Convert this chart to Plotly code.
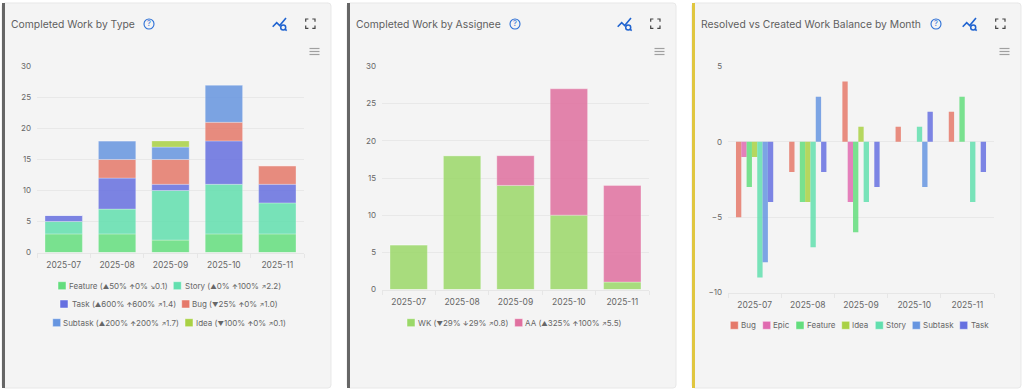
import plotly.graph_objects as go

W, H = 1024, 391
months = ["2025-07", "2025-08", "2025-09", "2025-10", "2025-11"]

# Completed Work by Type
feature = [3, 3, 2, 3, 3]
story = [2, 4, 8, 8, 5]
task = [1, 5, 1, 7, 3]
bug = [0, 3, 4, 3, 3]
subtask = [0, 3, 2, 6, 0]
idea = [0, 0, 1, 0, 0]

# Completed Work by Assignee
wk = [6, 18, 14, 10, 1]
aa = [0, 0, 4, 17, 13]

# Resolved vs Created balance
bal_bug = [-5, -2, 4, 1, 2]
bal_epic = [-1, 0, -4, 0, 0]
bal_feature = [-3, -4, -6, 0, 3]
bal_idea = [-1, -4, 1, 0, 0]
bal_story = [-9, -7, -4, 1, -4]
bal_subtask = [-8, 3, 0, -3, 0]
bal_task = [-4, -2, -3, 2, -2]


def sym(s):
    return f'<span style="font-size:6.4px">{s}</span>'


UP, DN = sym("<b>↑</b>"), sym("<b>↓</b>")
TRI_U, TRI_D = sym("▲"), sym("▼")
AR_U, AR_D = sym("↗"), sym("↘")
titles = ["Completed Work by Type", "Completed Work by Assignee", "Resolved vs Created Work Balance by Month"]
type_labels = [f"Feature ({TRI_U}50% {UP}0% {AR_D}0.1)", f"Story ({TRI_U}0% {UP}100% {AR_U}2.2)",
               f"Task ({TRI_U}600% {UP}600% {AR_U}1.4)", f"Bug ({TRI_D}25% {UP}0% {AR_U}1.0)",
               f"Subtask ({TRI_U}200% {UP}200% {AR_U}1.7)", f"Idea ({TRI_D}100% {UP}0% {AR_U}0.1)"]
assignee_labels = [f"WK ({TRI_D}29% {DN}29% {AR_U}0.8)", f"AA ({TRI_U}325% {UP}100% {AR_U}5.5)"]
balance_labels = ["Bug", "Epic", "Feature", "Idea", "Story", "Subtask", "Task"]

C = dict(feature="#63dd7d", story="#62dfae", task="#6670e0", bug="#e5796a", subtask="#6695e0",
         idea="#a9d144", wk="#9ad868", aa="#e0709f", epic="#e06bb0")
OP = 0.85
TXT = "#666666"
FONT = "Inter"


def px(x):
    return x / W


def py(y):
    return 1 - y / H


def P(*pts):
    return " ".join(f"{c}{px(x):.5f},{py(y):.5f}" for c, x, y in pts)


def rrect(x0, y0, x1, y1, r):
    return (f"M{px(x0+r):.5f},{py(y0):.5f} L{px(x1-r):.5f},{py(y0):.5f} "
            f"Q{px(x1):.5f},{py(y0):.5f} {px(x1):.5f},{py(y0+r):.5f} "
            f"L{px(x1):.5f},{py(y1-r):.5f} Q{px(x1):.5f},{py(y1):.5f} {px(x1-r):.5f},{py(y1):.5f} "
            f"L{px(x0+r):.5f},{py(y1):.5f} Q{px(x0):.5f},{py(y1):.5f} {px(x0):.5f},{py(y1-r):.5f} "
            f"L{px(x0):.5f},{py(y0+r):.5f} Q{px(x0):.5f},{py(y0):.5f} {px(x0+r):.5f},{py(y0):.5f} Z")


fig = go.Figure()
LINE = dict(color="rgba(255,255,255,0.3)", width=1)
LINE_NONE = dict(width=0)


def add_stack(ax, series):
    running = [0] * len(months)
    for name, vals, col in series:
        fig.add_trace(go.Bar(
            x=months, y=vals, base=list(running), name=name, xaxis=f"x{ax}", yaxis=f"y{ax}", showlegend=False,
            offsetgroup=f"stack{ax}", alignmentgroup=f"stack{ax}",
            marker=dict(color=col, opacity=OP, line=LINE),
        ))
        running = [r + v for r, v in zip(running, vals)]


def add_group(ax, series):
    for name, vals, col in series:
        fig.add_trace(go.Bar(
            x=months, y=vals, name=name, xaxis=f"x{ax}", yaxis=f"y{ax}", showlegend=False,
            marker=dict(color=col, opacity=OP, line=LINE_NONE),
        ))


add_stack("", [("Feature", feature, C["feature"]), ("Story", story, C["story"]), ("Task", task, C["task"]),
               ("Bug", bug, C["bug"]), ("Subtask", subtask, C["subtask"]), ("Idea", idea, C["idea"])])
add_stack("2", [("WK", wk, C["wk"]), ("AA", aa, C["aa"])])
add_group("3", [("Bug", bal_bug, C["bug"]), ("Epic", bal_epic, C["epic"]), ("Feature", bal_feature, C["feature"]),
                ("Idea", bal_idea, C["idea"]), ("Story", bal_story, C["story"]), ("Subtask", bal_subtask, C["subtask"]),
                ("Task", bal_task, C["task"])])

shapes, ann = [], []

cards = [(2, 331, "#666666", 0), (347, 676, "#666666", 345), (692, 1021, "#e0c63f", 690)]
help_x = [149, 515, 936]
title_x = [10, 355, 700]
for i, (x0, x1, acc, off) in enumerate(cards):
    shapes.append(dict(type="path", path=rrect(x0, 3, x1, 388, 3), xref="paper", yref="paper",
                       fillcolor="#f4f4f4", line=dict(color="#e8e8e8", width=1), layer="below"))
    shapes.append(dict(type="rect", xref="paper", yref="paper", x0=px(x0), x1=px(x0 + 3), y0=py(388), y1=py(3),
                       fillcolor=acc, line=dict(width=0), layer="below"))
    ann.append(dict(text=titles[i], x=px(title_x[i]), y=py(24), xref="paper", yref="paper", xanchor="left",
                    yanchor="middle", showarrow=False, xshift=-1, font=dict(family=FONT, size=10.35, color="#5f5f5f")))
    hx = help_x[i]
    shapes.append(dict(type="circle", xref="paper", yref="paper", x0=px(hx - 5), x1=px(hx + 5), y0=py(29), y1=py(19),
                       line=dict(color="#2b6fd6", width=1.1)))
    ann.append(dict(text="?", x=px(hx), y=py(24), xref="paper", yref="paper", showarrow=False, xanchor="center",
                    yanchor="middle", font=dict(family=FONT, size=7.5, color="#2b6fd6")))
    # chart-search icon
    a = off
    shapes.append(dict(type="path", xref="paper", yref="paper", line=dict(color="#1f63d0", width=1.6),
                       path=P(("M", a + 272.7, 26.7), ("L", a + 276.7, 22.7), ("L", a + 279.7, 25.5), ("L", a + 286, 18))))
    shapes.append(dict(type="circle", xref="paper", yref="paper", x0=px(a + 280.7), x1=px(a + 285.7), y0=py(30),
                       y1=py(25), line=dict(color="#1f63d0", width=1.5)))
    shapes.append(dict(type="path", xref="paper", yref="paper", line=dict(color="#1f63d0", width=1.6),
                       path=P(("M", a + 285, 29.2), ("L", a + 286.7, 30.7))))
    # fullscreen icon
    fx0, fx1, fy0, fy1 = a + 305.7, a + 315, 19, 28.3
    for cx, cy, dx, dy in [(fx0, fy0, 2.7, 2.7), (fx1, fy0, -2.7, 2.7), (fx0, fy1, 2.7, -2.7), (fx1, fy1, -2.7, -2.7)]:
        shapes.append(dict(type="path", xref="paper", yref="paper", line=dict(color="#444444", width=1.2),
                           path=P(("M", cx, cy + dy), ("L", cx, cy), ("L", cx + dx, cy))))
    # menu icon
    for yy in (48.5, 51.5, 54.5):
        shapes.append(dict(type="line", xref="paper", yref="paper", x0=px(a + 309.5), x1=px(a + 319.5), y0=py(yy),
                           y1=py(yy), line=dict(color="#a0a0a0", width=1.2)))

legend_items = [
    (type_labels[0], C["feature"], 58, 67.7, 285.7), (type_labels[1], C["story"], 173.3, 183.7, 285.7),
    (type_labels[2], C["task"], 60, 70.7, 304), (type_labels[3], C["bug"], 181.7, 191.3, 304),
    (type_labels[4], C["subtask"], 52.7, 62.3, 322.7), (type_labels[5], C["idea"], 185, 195, 322.7),
    (assignee_labels[0], C["wk"], 407, 417, 322.7), (assignee_labels[1], C["aa"], 514.7, 524.3, 322.7),
    (balance_labels[0], C["bug"], 730.3, 740.3, 325.3), (balance_labels[1], C["epic"], 762.7, 772.3, 325.3),
    (balance_labels[2], C["feature"], 796, 805.7, 325.3), (balance_labels[3], C["idea"], 841.7, 851.3, 325.3),
    (balance_labels[4], C["story"], 875.3, 884.7, 325.3), (balance_labels[5], C["subtask"], 912.3, 922, 325.3),
    (balance_labels[6], C["task"], 959.7, 969.7, 325.3),
]
for text, col, sx, tx, yy in legend_items:
    shapes.append(dict(type="rect", xref="paper", yref="paper", x0=px(sx), x1=px(sx + 8), y0=py(yy + 4), y1=py(yy - 4),
                       fillcolor=col, line=dict(color="rgba(255,255,255,0.45)", width=1)))
    ann.append(dict(text=text, x=px(tx), y=py(yy), xref="paper", yref="paper", xanchor="left", yanchor="middle",
                    showarrow=False, xshift=-1, font=dict(family=FONT, size=8, color=TXT)))

axcommon = dict(showgrid=False, showline=True, linecolor="#e6e6e6", linewidth=1, ticks="outside",
                tickcolor="#e6e6e6", ticklen=4, tickson="boundaries", type="category", automargin=False,
                tickfont=dict(family=FONT, size=8.5, color=TXT), zeroline=False, fixedrange=True, ticklabelstandoff=4)
aycommon = dict(showgrid=True, gridcolor="#e8e8e8", gridwidth=1, showline=False, ticks="", automargin=False,
                tickfont=dict(family=FONT, size=8, color=TXT), fixedrange=True, ticklabelstandoff=5)

fig.update_layout(
    width=W, height=H, autosize=False, margin=dict(l=0, r=0, t=0, b=0, pad=0, autoexpand=False),
    paper_bgcolor="#ffffff", plot_bgcolor="rgba(0,0,0,0)", barmode="group", bargap=0.3, bargroupgap=0,
    shapes=shapes, annotations=ann,
    xaxis=dict(domain=[px(37), px(304)], anchor="y", **axcommon),
    yaxis=dict(domain=[py(252.5), py(66.5)], anchor="x", range=[0, 30], dtick=5, zeroline=False, **aycommon),
    xaxis2=dict(domain=[px(382), px(649)], anchor="y2", **axcommon),
    yaxis2=dict(domain=[py(289.5), py(66.5)], anchor="x2", range=[0, 30], dtick=5, zeroline=False, **aycommon),
    xaxis3=dict(domain=[px(728), px(994)], anchor="y3", **axcommon),
    yaxis3=dict(domain=[py(292.5), py(66.5)], anchor="x3", range=[-10, 5], dtick=5, zeroline=False, **aycommon),
)

fig.write_html("out.html", config=dict(displayModeBar=False),
               post_script="document.body.style.margin='0';document.body.style.overflow='hidden';window.dispatchEvent(new Event('resize'));")
